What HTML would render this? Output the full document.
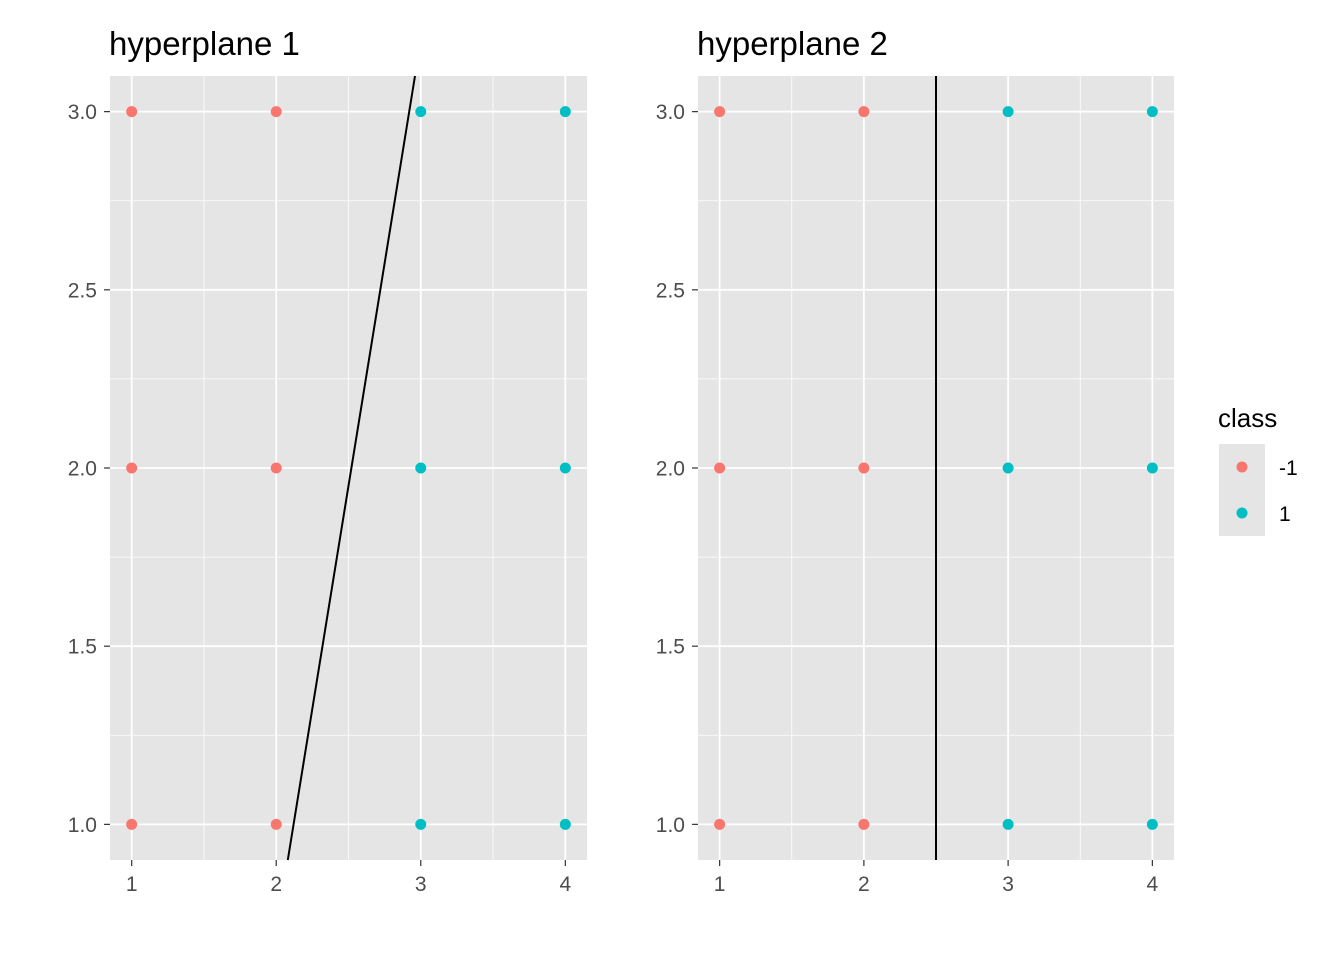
<!DOCTYPE html>
<html><head><meta charset="utf-8"><style>
body{margin:0;background:#fff;}
svg text{font-family:"Liberation Sans",Arial,sans-serif;}
</style></head><body>
<svg id="chart" width="1344" height="960" xmlns="http://www.w3.org/2000/svg"></svg>
<script>
const xs=[1,2,3,4,1,2,3,4,1,2,3,4];
const ys=[3,3,3,3,2,2,2,2,1,1,1,1];
const cls=[-1,-1,1,1,-1,-1,1,1,-1,-1,1,1];
const xTicks=[1,2,3,4];
const yTicks=[1.0,1.5,2.0,2.5,3.0];
const yTickLabels=["1.0","1.5","2.0","2.5","3.0"];
const titles=["hyperplane 1","hyperplane 2"];
const lines=[[2.08,0.9,2.96,3.1],[2.5,0.9,2.5,3.1]];
const legendLabels=["-1","1"];
const colors={"-1":"#F8766D","1":"#00BFC4"};
const svg=document.getElementById('chart');
const NS="http://www.w3.org/2000/svg";
function mk(t,a,p){const e=document.createElementNS(NS,t);for(const k in a)e.setAttribute(k,a[k]);(p||svg).appendChild(e);return e;}
const panels=[{l:110,r:587},{l:698,r:1174}];
const plotTop=76,plotBot=860,ymin=0.9,ymax=3.1,xmin=0.85,xmax=4.15;
const BG='#E5E5E5';
panels.forEach((P,i)=>{
  const g=mk('g',{});
  
  
  const sx=v=>P.l+(v-xmin)/(xmax-xmin)*(P.r-P.l);
  const sy=v=>plotBot-(v-ymin)/(ymax-ymin)*(plotBot-plotTop);
  const bg=mk('rect',{x:P.l,y:plotTop,width:P.r-P.l,height:plotBot-plotTop,fill:BG},g);
  
  
  for(let k=0;k<xTicks.length-1;k++){const m=(xTicks[k]+xTicks[k+1])/2;mk('line',{x1:sx(m),x2:sx(m),y1:plotTop,y2:plotBot,stroke:'#fff','stroke-width':0.8},g);}
  for(let k=0;k<yTicks.length-1;k++){const m=(yTicks[k]+yTicks[k+1])/2;mk('line',{x1:P.l,x2:P.r,y1:sy(m),y2:sy(m),stroke:'#fff','stroke-width':0.8},g);}
  xTicks.forEach(v=>{mk('line',{x1:sx(v),x2:sx(v),y1:plotTop,y2:plotBot,stroke:'#fff','stroke-width':1.8},g);
    mk('line',{x1:sx(v),x2:sx(v),y1:plotBot,y2:plotBot+6,stroke:'#333','stroke-width':1.2},g);
    const t=mk('text',{x:sx(v),y:plotBot+31,'font-size':21,fill:'#4D4D4D','text-anchor':'middle'},g);t.textContent=v;
    });
  yTicks.forEach((v,k)=>{mk('line',{x1:P.l,x2:P.r,y1:sy(v),y2:sy(v),stroke:'#fff','stroke-width':1.8},g);
    mk('line',{x1:P.l-6,x2:P.l,y1:sy(v),y2:sy(v),stroke:'#333','stroke-width':1.2},g);
    const t=mk('text',{x:P.l-13,y:sy(v)+7.5,'font-size':21,fill:'#4D4D4D','text-anchor':'end'},g);t.textContent=yTickLabels[k];
    });
  xs.forEach((x,k)=>{const c=mk('circle',{cx:sx(x),cy:sy(ys[k]),r:5.5,fill:colors[cls[k]]},g);
    });
  const L=lines[i];
  const ln=mk('line',{x1:sx(L[0]),y1:sy(L[1]),x2:sx(L[2]),y2:sy(L[3]),stroke:'#000','stroke-width':2},g);
  
  const tt=mk('text',{x:P.l-1,y:55,'font-size':33,fill:'#000'},g);tt.textContent=titles[i];
  
});
const lg=mk('g',{});


const lt=mk('text',{x:1218,y:427,'font-size':26,fill:'#000'},lg);lt.textContent='class';
legendLabels.forEach((l,k)=>{
  const y=444+k*46;
  mk('rect',{x:1219,y:y,width:46,height:46,fill:BG},lg);
  const c=mk('circle',{cx:1242,cy:y+23,r:5.5,fill:colors[l]},lg);
  
  const t=mk('text',{x:1279,y:y+31,'font-size':21,fill:'#000'},lg);t.textContent=l;
  
});
</script>
</body></html>
